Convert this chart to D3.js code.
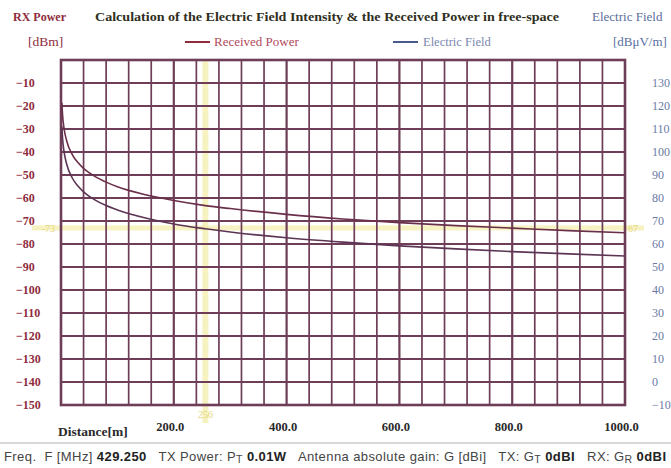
<!DOCTYPE html>
<html>
<head>
<meta charset="utf-8">
<script src="https://cdn.jsdelivr.net/npm/d3@7/dist/d3.min.js"></script>
<style>
  body { margin: 0; background: #fff; }
  svg { display: block; }
  .serif { font-family: "Liberation Serif", "DejaVu Serif", serif; }
</style>
</head>
<body>
<svg id="chart" width="671" height="468"></svg>
<script>
// Distances in metres
const distances = [1.5, 3, 5, 10, 20, 30, 40, 60, 80, 100, 150, 200, 256, 300, 400, 500, 600, 700, 800, 900, 1000];
// Received power [dBm] (left axis)
const receivedPower = [-18.6, -24.6, -29.1, -35.1, -41.1, -44.6, -47.1, -50.6, -53.1, -55.1, -58.6, -61.1, -63.3, -64.6, -67.1, -69.1, -70.7, -72.0, -73.1, -74.2, -75.1];
// Electric field [dBuV/m] (right axis)
const electricField = [111.2, 105.2, 100.8, 94.8, 88.7, 85.2, 82.7, 79.2, 76.7, 74.8, 71.3, 68.7, 66.6, 65.2, 62.7, 60.8, 59.2, 57.9, 56.7, 55.7, 54.8];

const leftTicks = [-10, -20, -30, -40, -50, -60, -70, -80, -90, -100, -110, -120, -130, -140, -150];
const rightTicks = [130, 120, 110, 100, 90, 80, 70, 60, 50, 40, 30, 20, 10, 0, -10];
const xTicks = [200, 400, 600, 800, 1000];

// cursor read-out
const cursorDistance = 256;
const cursorPower = -73;
const cursorField = 67;

const svg = d3.select('#chart');
const plotLeft = 61, plotRight = 625, plotTop = 60, plotBottom = 405;

const x = d3.scaleLinear().domain([0, 1000]).range([plotLeft, plotRight]);
const yL = d3.scaleLinear().domain([-150, 0]).range([plotBottom, plotTop]);
const yR = d3.scaleLinear().domain([-10, 140]).range([plotBottom, plotTop]);

const gridColor = '#6e3d57';

// Cursor bands (behind grid)
svg.append('rect')
    .attr('x', x(cursorDistance) - 3).attr('y', plotTop)
    .attr('width', 6).attr('height', plotBottom - plotTop + 18)
    .attr('fill', '#f3eca8').attr('opacity', 0.7);
svg.append('rect')
    .attr('x', 32).attr('y', yL(cursorPower) - 2.5)
    .attr('width', 612).attr('height', 5)
    .attr('fill', '#f3eca8').attr('opacity', 0.7);

// Grid
const grid = svg.append('g');
grid.selectAll('line.v')
    .data(d3.range(40, 1000, 40))
    .enter().append('line')
    .attr('x1', d => x(d)).attr('x2', d => x(d))
    .attr('y1', plotTop).attr('y2', plotBottom)
    .attr('stroke', gridColor)
    .attr('stroke-width', d => d % 200 === 0 ? 2.2 : 1.7);
grid.selectAll('line.h')
    .data(d3.range(-140, 0, 10))
    .enter().append('line')
    .attr('x1', plotLeft).attr('x2', plotRight)
    .attr('y1', d => yL(d)).attr('y2', d => yL(d))
    .attr('stroke', gridColor)
    .attr('stroke-width', 1.9);
svg.append('rect')
    .attr('x', plotLeft).attr('y', plotTop)
    .attr('width', plotRight - plotLeft).attr('height', plotBottom - plotTop)
    .attr('fill', 'none').attr('stroke', gridColor).attr('stroke-width', 2.6);

// Curves
const pts = distances.map((d, i) => ({ d: d, p: receivedPower[i], e: electricField[i] }));
svg.append('path')
    .datum(pts)
    .attr('fill', 'none')
    .attr('stroke', '#6a2f4a')
    .attr('stroke-width', 1.6)
    .attr('d', d3.line().curve(d3.curveMonotoneX).x(d => x(d.d)).y(d => yL(d.p)));
svg.append('path')
    .datum(pts)
    .attr('fill', 'none')
    .attr('stroke', '#5c3555')
    .attr('stroke-width', 1.6)
    .attr('d', d3.line().curve(d3.curveMonotoneX).x(d => x(d.d)).y(d => yR(d.e)));

// Left axis
const axL = svg.append('g')
    .attr('transform', 'translate(16,0)')
    .call(d3.axisLeft(yL).tickValues(leftTicks).tickSize(0).tickPadding(0));
axL.select('.domain').remove();
axL.selectAll('text')
    .attr('text-anchor', 'start')
    .attr('fill', '#8e2c3e')
    .attr('font-size', 12)
    .attr('font-weight', 700)
    .attr('font-family', '"Liberation Serif", serif');

// Right axis
const axR = svg.append('g')
    .attr('transform', 'translate(652,0)')
    .call(d3.axisRight(yR).tickValues(rightTicks).tickSize(0).tickPadding(0));
axR.select('.domain').remove();
axR.selectAll('text')
    .attr('text-anchor', 'start')
    .attr('fill', '#6a7aa6')
    .attr('font-size', 12)
    .attr('font-family', '"Liberation Serif", serif');

// Bottom axis
const axB = svg.append('g')
    .attr('transform', 'translate(-4,' + (plotBottom + 17) + ')')
    .call(d3.axisBottom(x).tickValues(xTicks).tickSize(0).tickPadding(0).tickFormat(d3.format('.1f')));
axB.select('.domain').remove();
axB.selectAll('text')
    .attr('fill', '#2a2a2a')
    .attr('font-size', 12.5)
    .attr('font-weight', 700)
    .attr('font-family', '"Liberation Serif", serif');

svg.append('text').attr('class', 'serif')
    .attr('x', 58).attr('y', 436)
    .attr('font-size', 13.5).attr('font-weight', 700).attr('fill', '#2a2a2a')
    .text('Distance[m]');

// Cursor labels
svg.append('text').attr('class', 'serif')
    .attr('x', x(cursorDistance)).attr('y', 418)
    .attr('text-anchor', 'middle').attr('font-size', 10).attr('fill', '#e3d779')
    .text(cursorDistance);
svg.append('text').attr('class', 'serif')
    .attr('x', 55).attr('y', yL(cursorPower) + 4)
    .attr('text-anchor', 'end').attr('font-size', 10).attr('fill', '#e3d779')
    .text(cursorPower);
svg.append('text').attr('class', 'serif')
    .attr('x', 628).attr('y', yL(cursorPower) + 4)
    .attr('font-size', 10).attr('fill', '#e3d779')
    .text(cursorField);

// Header
svg.append('text').attr('class', 'serif')
    .attr('x', 13).attr('y', 21)
    .attr('font-size', 12).attr('font-weight', 700).attr('fill', '#8e2c3e')
    .text('RX Power');
svg.append('text').attr('class', 'serif')
    .attr('x', 95).attr('y', 21)
    .attr('font-size', 11.5).attr('font-weight', 700).attr('fill', '#2f2f22')
    .attr('textLength', 464).attr('lengthAdjust', 'spacingAndGlyphs')
    .text('Calculation of the Electric Field Intensity & the Received Power in free-space');
svg.append('text').attr('class', 'serif')
    .attr('x', 592).attr('y', 21)
    .attr('font-size', 13).attr('fill', '#5a6e9e')
    .text('Electric Field');
svg.append('text').attr('class', 'serif')
    .attr('x', 28).attr('y', 46)
    .attr('font-size', 13.5).attr('fill', '#8e2c3e')
    .text('[dBm]');
svg.append('text').attr('class', 'serif')
    .attr('x', 613).attr('y', 46)
    .attr('font-size', 13).attr('fill', '#5a6e9e')
    .text('[dBμV/m]');

// Legend
svg.append('line')
    .attr('x1', 185).attr('x2', 210).attr('y1', 42).attr('y2', 42)
    .attr('stroke', '#8e2c3e').attr('stroke-width', 2);
svg.append('text').attr('class', 'serif')
    .attr('x', 214).attr('y', 46)
    .attr('font-size', 13).attr('fill', '#b04a5c')
    .text('Received Power');
svg.append('line')
    .attr('x1', 393).attr('x2', 418).attr('y1', 42).attr('y2', 42)
    .attr('stroke', '#4a5a8e').attr('stroke-width', 2);
svg.append('text').attr('class', 'serif')
    .attr('x', 423).attr('y', 46)
    .attr('font-size', 12.5).attr('fill', '#7a88b0')
    .text('Electric Field');

// Footer
svg.append('line')
    .attr('x1', 0).attr('x2', 671).attr('y1', 443).attr('y2', 443)
    .attr('stroke', '#b0b0b0').attr('stroke-width', 1.2);

const footer = svg.append('text')
    .attr('x', 4).attr('y', 461)
    .attr('xml:space', 'preserve')
    .attr('font-family', '"Liberation Sans", Arial, sans-serif')
    .attr('font-size', 13).attr('fill', '#444');
const parts = [
    ['Freq.  F [MHz] ', 400, 0],
    ['429.250', 700, 0],
    ['   TX Power: P', 400, 0],
    ['T', 400, 2],
    [' 0.01W', 700, -2],
    ['   Antenna absolute gain: G [dBi]   TX: G', 400, 0],
    ['T', 400, 2],
    [' 0dBI', 700, -2],
    ['   RX: G', 400, 0],
    ['R', 400, 2],
    [' 0dBI', 700, -2]
];
parts.forEach(p => {
    footer.append('tspan')
        .attr('font-weight', p[1])
        .attr('font-size', p[2] === 2 ? 10.5 : 13)
        .attr('dy', p[2])
        .attr('fill', p[1] === 700 ? '#222' : '#444')
        .style('white-space', 'pre')
        .text(p[0]);
});
// stretch footer to the reference width
footer.attr('textLength', 662).attr('lengthAdjust', 'spacing');
</script>
</body>
</html>
